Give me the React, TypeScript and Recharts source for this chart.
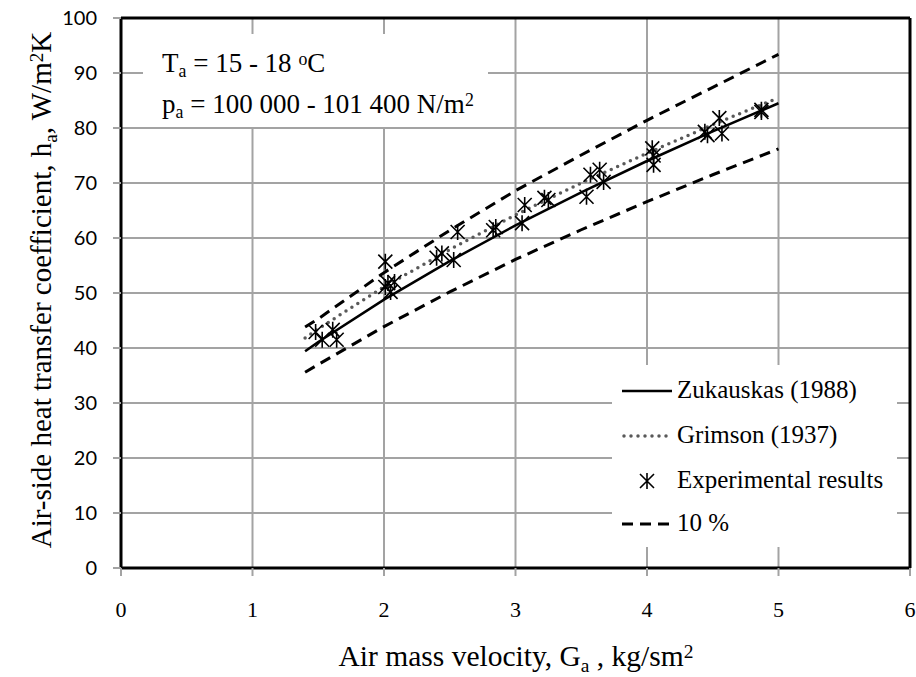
import React from "react";
import {
  CartesianGrid,
  ComposedChart,
  Line,
  ReferenceLine,
  Scatter,
  XAxis,
  YAxis,
} from "recharts";

// air mass velocity points used for the fitted curves
const G_FIT = [1.4, 1.5, 2, 2.5, 3, 3.5, 4, 4.5, 5];
const ZUKAUSKAS = [39.4, 41.1, 48.8, 55.8, 62.3, 68.3, 74.0, 79.4, 84.5];
const GRIMSON = [41.8, 43.5, 51.1, 57.9, 64.2, 70.0, 75.4, 80.6, 85.5];
const UPPER_10 = [43.8, 45.3, 53.7, 61.4, 68.6, 75.1, 81.4, 87.4, 93.4];
const LOWER_10 = [35.6, 37.0, 43.9, 50.2, 56.1, 61.5, 66.6, 71.5, 76.2];

// experimental results
const EXP_G = [
  1.48, 1.53, 1.61, 1.64, 2.01, 2.01, 2.03, 2.05, 2.08, 2.4, 2.44, 2.53, 2.56, 2.83, 2.85, 3.05,
  3.07, 3.22, 3.25, 3.54, 3.57, 3.64, 3.67, 4.04, 4.05, 4.05, 4.44, 4.46, 4.55, 4.57, 4.87, 4.87,
];
const EXP_H = [
  42.9, 41.5, 43.3, 41.5, 55.7, 51.1, 51.8, 50.2, 52.0, 56.4, 57.2, 56.0, 61.1, 61.4, 62.0, 62.7,
  66.0, 67.3, 66.9, 67.5, 71.5, 72.4, 70.2, 76.3, 75.0, 73.3, 79.3, 78.7, 81.8, 79.0, 82.9, 83.3,
];

const X_TICKS = [0, 1, 2, 3, 4, 5, 6];
const Y_TICKS = [0, 10, 20, 30, 40, 50, 60, 70, 80, 90, 100];

const SERIF = "Liberation Serif, Times New Roman, serif";
const GRID = "#a3a3a3";

const fitData = G_FIT.map((g, i) => ({
  g,
  zuk: ZUKAUSKAS[i],
  grim: GRIMSON[i],
  up: UPPER_10[i],
  lo: LOWER_10[i],
}));
const expData = EXP_G.map((g, i) => ({ g, h: EXP_H[i] }));

function Star(props: any) {
  const { cx, cy } = props;
  if (cx == null || cy == null) return null;
  const r = 7;
  return (
    <path
      d={`M${cx - r},${cy - r}L${cx + r},${cy + r}M${cx - r},${cy + r}L${cx + r},${cy - r}M${cx},${cy - r - 1}L${cx},${cy + r + 1}`}
      stroke="#000"
      strokeWidth={1.6}
      fill="none"
    />
  );
}

const sub = { fontSize: "0.66em", position: "relative" as const, top: "0.3em" };
const sup = { fontSize: "0.66em", position: "relative" as const, top: "-0.4em" };

function LegendRow({ y, kind, label }: { y: number; kind: string; label: string }) {
  return (
    <div style={{ position: "absolute", left: 0, top: y - 15, height: 30, width: 285 }}>
      <svg width={56} height={30} style={{ position: "absolute", left: 8, top: 1 }}>
        {kind === "solid" && <line x1={2} y1={15} x2={52} y2={15} stroke="#000" strokeWidth={2.5} />}
        {kind === "dot" && (
          <line x1={4} y1={15} x2={52} y2={15} stroke="#595959" strokeWidth={3.5} strokeDasharray="0 7" strokeLinecap="round" />
        )}
        {kind === "star" && <Star cx={27} cy={15} />}
        {kind === "dash" && <line x1={2} y1={15} x2={52} y2={15} stroke="#000" strokeWidth={3} strokeDasharray="11 7" />}
      </svg>
      <div style={{ position: "absolute", left: 65, top: 0, fontSize: 25, lineHeight: "30px", whiteSpace: "nowrap" }}>
        {label}
      </div>
    </div>
  );
}

export default function App() {
  return (
    <div
      style={{
        position: "absolute",
        left: 0,
        top: 0,
        width: 916,
        height: 677,
        background: "#fff",
        fontFamily: SERIF,
        color: "#000",
        overflow: "hidden",
      }}
    >
      <ComposedChart width={916} height={677} data={fitData} margin={{ top: 18, right: 6, left: 61, bottom: 49 }}>
        <CartesianGrid stroke={GRID} strokeWidth={2} horizontalValues={Y_TICKS} verticalValues={X_TICKS} />
        <XAxis
          type="number"
          dataKey="g"
          domain={[0, 6]}
          ticks={X_TICKS}
          height={60}
          interval={0}
          axisLine={{ stroke: "#000", strokeWidth: 3 }}
          tickLine={{ stroke: GRID, strokeWidth: 2 }}
          tickSize={8}
          tickMargin={25}
          tick={{ fill: "#000", fontSize: 22, fontFamily: SERIF }}
        />
        <YAxis
          type="number"
          domain={[0, 100]}
          ticks={Y_TICKS}
          width={60}
          interval={0}
          axisLine={{ stroke: "#000", strokeWidth: 3 }}
          tickLine={{ stroke: GRID, strokeWidth: 2 }}
          tickSize={8}
          tickMargin={16}
          tick={{ fill: "#000", fontSize: 20, fontFamily: "Lato, Liberation Sans, sans-serif" }}
        />
        <ReferenceLine y={100} stroke="#000" strokeWidth={3} />
        <ReferenceLine x={6} stroke="#000" strokeWidth={3} />
        <Line dataKey="up" stroke="#000" strokeWidth={3} strokeDasharray="11 7" dot={false} isAnimationActive={false} />
        <Line dataKey="lo" stroke="#000" strokeWidth={3} strokeDasharray="11 7" dot={false} isAnimationActive={false} />
        <Line
          dataKey="grim"
          stroke="#595959"
          strokeWidth={3.5}
          strokeDasharray="0 7"
          strokeLinecap="round"
          dot={false}
          isAnimationActive={false}
        />
        <Line dataKey="zuk" stroke="#000" strokeWidth={2.5} dot={false} isAnimationActive={false} />
        <Scatter data={expData} dataKey="h" shape={<Star />} isAnimationActive={false} />
      </ComposedChart>

      {/* conditions text box */}
      <div style={{ position: "absolute", left: 143, top: 34, width: 345, height: 93, background: "#fff" }}>
        <div style={{ position: "absolute", left: 19, top: 10, fontSize: 27, lineHeight: "38px", whiteSpace: "nowrap" }}>
          <div>
            T<span style={sub}>a</span> = 15 - 18 <span style={sup}>o</span>C
          </div>
          <div>
            p<span style={sub}>a</span> = 100 000 - 101 400 N/m<span style={sup}>2</span>
          </div>
        </div>
      </div>

      {/* legend */}
      <div style={{ position: "absolute", left: 612, top: 365, width: 285, height: 182, background: "#fff" }}>
        <LegendRow y={25} kind="solid" label="Zukauskas (1988)" />
        <LegendRow y={70} kind="dot" label="Grimson (1937)" />
        <LegendRow y={115} kind="star" label="Experimental results" />
        <LegendRow y={158} kind="dash" label="10 %" />
      </div>

      {/* axis titles */}
      <div
        style={{
          position: "absolute",
          left: 41 - 300,
          top: 290 - 17,
          width: 600,
          height: 34,
          textAlign: "center",
          fontSize: 29,
          lineHeight: "34px",
          transform: "rotate(-90deg)",
          whiteSpace: "nowrap",
        }}
      >
        Air-side heat transfer coefficient, h<span style={sub}>a</span>, W/m<span style={sup}>2</span>K
      </div>
      <div
        style={{
          position: "absolute",
          left: 516 - 300,
          top: 639,
          width: 600,
          textAlign: "center",
          fontSize: 29.5,
          lineHeight: "34px",
          whiteSpace: "nowrap",
        }}
      >
        Air mass velocity, G<span style={sub}>a</span> , kg/sm<span style={sup}>2</span>
      </div>
    </div>
  );
}
